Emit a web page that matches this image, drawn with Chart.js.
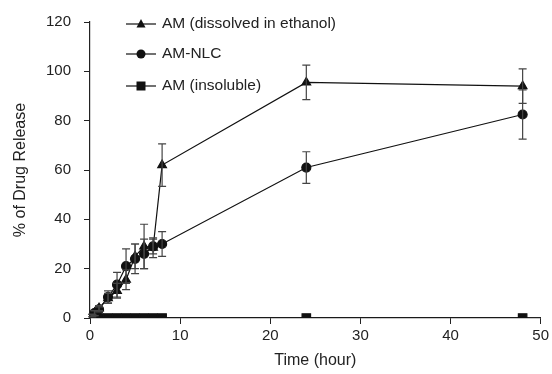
<!DOCTYPE html>
<html><head><meta charset="utf-8">
<script src="https://cdn.jsdelivr.net/npm/chart.js@4"></script>
<style>html,body{margin:0;padding:0;background:#fff}#wrap{width:552px;height:374px}</style>
</head><body><div id="wrap"><canvas id="c" width="552" height="374"></canvas></div>
<script>
const timeHours = [0, 0.25, 0.5, 1, 2, 3, 4, 5, 6, 7, 8, 24, 48];
const seriesNames = ["AM (dissolved in ethanol)", "AM-NLC", "AM (insoluble)"];
const ethanolRelease = [0, 1, 2, 4, 8, 11, 15.5, 25, 29, 28.5, 62, 95.5, 94];
const ethanolError = [0, 0.5, 1, 1, 2, 3, 4, 5, 9, 4, 8.6, 7, 7];
const nlcRelease = [0, 1, 2, 3.5, 8.5, 13.5, 21, 24, 26, 29, 30, 61, 82.5];
const nlcError = [0, 0.5, 1, 1, 2.5, 5, 7, 6, 6, 3, 5, 6.4, 10];
const insolubleRelease = [0, 0, 0, 0, 0, 0, 0, 0, 0, 0, 0, 0, 0];
const yTicks = [0, 20, 40, 60, 80, 100, 120];
const xTicks = [0, 10, 20, 30, 40, 50];

const FONT = "'Liberation Sans', Arial, sans-serif";
const pts = (ys) => timeHours.map((t, i) => ({x: t, y: ys[i]}));

const errorBars = {
  id: 'errorBars',
  afterDatasetsDraw(chart) {
    const ctx = chart.ctx, xs = chart.scales.x, ys = chart.scales.y;
    chart.data.datasets.forEach(ds => {
      if (!ds.errors) return;
      ctx.save();
      ctx.strokeStyle = '#444';
      ctx.lineWidth = 1.2;
      ds.data.forEach((p, i) => {
        const e = ds.errors[i];
        if (!e) return;
        const x = xs.getPixelForValue(p.x);
        const y1 = ys.getPixelForValue(p.y + e), y2 = ys.getPixelForValue(p.y - e);
        ctx.beginPath();
        ctx.moveTo(x, y1); ctx.lineTo(x, y2);
        ctx.moveTo(x - 4, y1); ctx.lineTo(x + 4, y1);
        ctx.moveTo(x - 4, y2); ctx.lineTo(x + 4, y2);
        ctx.stroke();
      });
      ctx.restore();
    });
  }
};

function marker(ctx, style, x, y) {
  ctx.beginPath();
  if (style === 'triangle') {
    ctx.moveTo(x, y - 5); ctx.lineTo(x + 4.5, y + 3.5); ctx.lineTo(x - 4.5, y + 3.5); ctx.closePath();
  } else if (style === 'circle') {
    ctx.arc(x, y, 4.5, 0, Math.PI * 2);
  } else {
    ctx.rect(x - 4.5, y - 4.5, 9, 9);
  }
  ctx.fill();
}

const legendPlugin = {
  id: 'customLegend',
  afterDraw(chart) {
    const ctx = chart.ctx;
    ctx.save();
    const rows = [24, 54, 86];
    chart.data.datasets.forEach((ds, i) => {
      const y = rows[i];
      ctx.strokeStyle = '#111'; ctx.fillStyle = '#111'; ctx.lineWidth = 1.2;
      ctx.beginPath(); ctx.moveTo(126, y); ctx.lineTo(156, y); ctx.stroke();
      marker(ctx, ds.pointStyle, 141, y);
      ctx.font = '15.5px ' + FONT;
      ctx.textBaseline = 'middle'; ctx.textAlign = 'left';
      ctx.fillStyle = '#222';
      ctx.fillText(ds.label, 162, y);
    });
    ctx.restore();
  }
};

const common = {borderColor: '#111', backgroundColor: '#111', pointBorderColor: '#111', pointBackgroundColor: '#111', borderWidth: 1.2, fill: false, tension: 0};

new Chart(document.getElementById('c'), {
  type: 'line',
  data: {
    datasets: [
      Object.assign({label: seriesNames[0], data: pts(ethanolRelease), errors: ethanolError, pointStyle: 'triangle', pointRadius: 5}, common),
      Object.assign({label: seriesNames[1], data: pts(nlcRelease), errors: nlcError, pointStyle: 'circle', pointRadius: 4.5}, common),
      Object.assign({label: seriesNames[2], data: pts(insolubleRelease), pointStyle: 'rect', pointRadius: 6}, common)
    ]
  },
  options: {
    responsive: false,
    animation: false,
    layout: {padding: {left: 7, right: 10, top: 18, bottom: 0}},
    plugins: {legend: {display: false}, tooltip: {enabled: false}},
    scales: {
      x: {
        type: 'linear', min: 0, max: 50,
        afterBuildTicks: s => { s.ticks = xTicks.map(v => ({value: v})); },
        afterFit: s => { s.height = 56; },
        grid: {drawOnChartArea: false, drawTicks: true, tickLength: 6, color: '#222', lineWidth: 1},
        border: {display: true, color: '#222', width: 1.2},
        ticks: {color: '#222', font: {family: FONT, size: 15}, padding: 3, maxRotation: 0},
        title: {display: true, text: 'Time (hour)', color: '#222', font: {family: FONT, size: 16}, padding: {top: 1}}
      },
      y: {
        type: 'linear', min: 0, max: 120,
        afterBuildTicks: s => { s.ticks = yTicks.map(v => ({value: v})); },
        afterFit: s => { s.width = 83; },
        grid: {drawOnChartArea: false, drawTicks: true, tickLength: 6, color: '#222', lineWidth: 1},
        border: {display: true, color: '#222', width: 1.2},
        ticks: {color: '#222', font: {family: FONT, size: 15}, padding: 13},
        title: {display: true, text: '% of Drug Release', color: '#222', font: {family: FONT, size: 16}, padding: {bottom: 0}}
      }
    }
  },
  plugins: [errorBars, legendPlugin]
});
</script></body></html>
